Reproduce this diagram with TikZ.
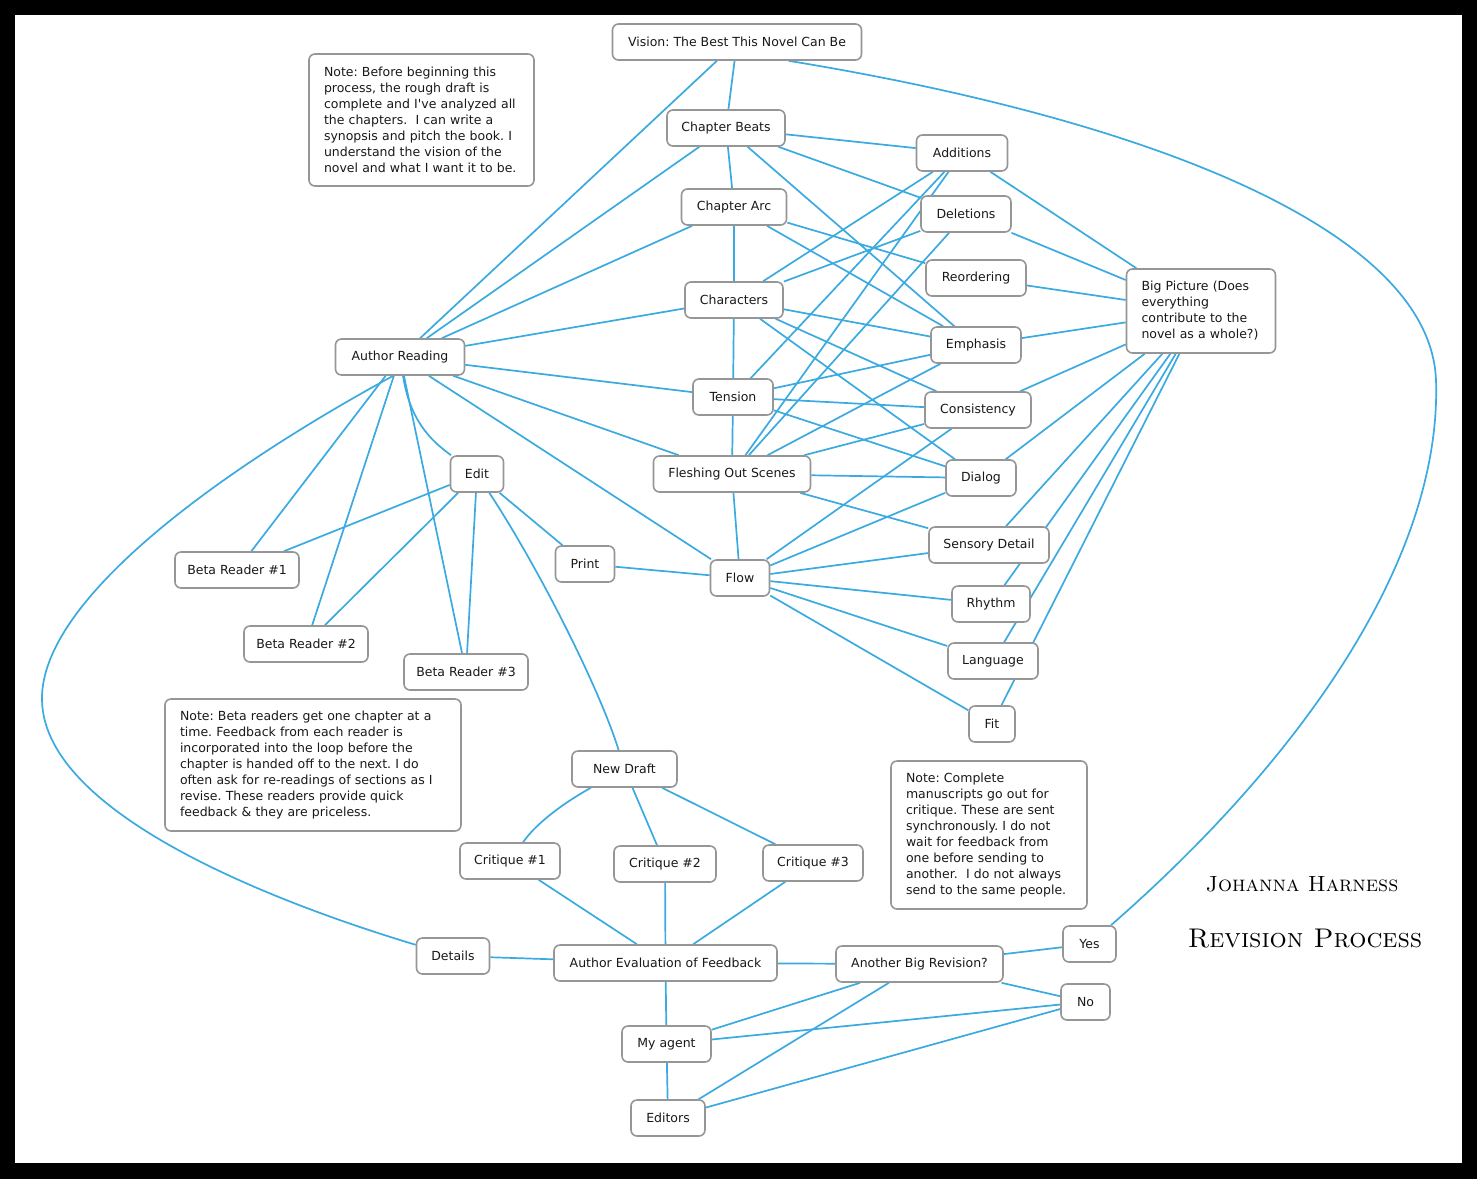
\documentclass[tikz,border=0pt]{standalone}
\usepackage{fontspec}
\newfontfamily\lbl{DejaVu Sans}
\usetikzlibrary{backgrounds}
\definecolor{edgec}{RGB}{58,170,225}
\definecolor{bord}{RGB}{150,150,150}
\frenchspacing
\begin{document}
\begin{tikzpicture}[x=1pt,y=-1pt,
  box/.style={draw=bord, line width=1.6pt, rounded corners=6pt, fill=white,
    minimum height=36pt, inner sep=0pt, text=black!90,
    font=\lbl\fontsize{12.5}{16}\selectfont},
  notebox/.style={box, align=left},
  link/.style={draw=edgec, line width=1.7pt}]

% nodes
\node[box, minimum width=249pt] (vis) at (737,42) {Vision: The Best This Novel Can Be};
\node[notebox, minimum width=225pt, minimum height=132pt, text width=195pt] (n1) at (421.5,120)
  {Note: Before beginning this\\process, the rough draft is\\complete and I've analyzed all\\the chapters.\ \ I can write a\\synopsis and pitch the book. I\\understand the vision of the\\novel and what I want it to be.};
\node[box, minimum width=118pt] (cb) at (726,128) {Chapter Beats};
\node[box, minimum width=91pt] (add) at (962,153) {Additions};
\node[box, minimum width=105pt] (ca) at (734,207) {Chapter Arc};
\node[box, minimum width=90pt] (del) at (966,214) {Deletions};
\node[box, minimum width=100pt] (reo) at (976,278) {Reordering};
\node[notebox, minimum width=149pt, minimum height=84pt, text width=119pt] (bp) at (1201,311)
  {Big Picture (Does\\everything\\contribute to the\\novel as a whole?)};
\node[box, minimum width=98pt] (chr) at (734,300) {Characters};
\node[box, minimum width=90pt] (emp) at (976,345) {Emphasis};
\node[box, minimum width=129pt] (ar) at (400,357) {Author Reading};
\node[box, minimum width=80pt] (ten) at (733,397) {Tension};
\node[box, minimum width=106pt] (con) at (978,410) {Consistency};
\node[box, minimum width=53pt] (edit) at (477,474) {Edit};
\node[box, minimum width=157pt] (fos) at (732,474) {Fleshing Out Scenes};
\node[box, minimum width=70pt] (dia) at (981,478) {Dialog};
\node[box, minimum width=120pt] (sen) at (989,545) {Sensory Detail};
\node[box, minimum width=124pt] (b1) at (237,570) {Beta Reader \#1};
\node[box, minimum width=59pt] (pr) at (585,564) {Print};
\node[box, minimum width=59pt] (flow) at (740,578) {Flow};
\node[box, minimum width=78pt] (rhy) at (991,604) {Rhythm};
\node[box, minimum width=124pt] (b2) at (306,644) {Beta Reader \#2};
\node[box, minimum width=90pt] (lan) at (993,661) {Language};
\node[box, minimum width=124pt] (b3) at (466,672) {Beta Reader \#3};
\node[box, minimum width=46pt] (fit) at (992,724) {Fit};
\node[notebox, minimum width=296pt, minimum height=132pt, text width=266pt] (n2) at (313,765)
  {Note: Beta readers get one chapter at a\\time. Feedback from each reader is\\incorporated into the loop before the\\chapter is handed off to the next. I do\\often ask for re-readings of sections as I\\revise. These readers provide quick\\feedback \& they are priceless.};
\node[box, minimum width=105pt] (nd) at (624.5,769) {New Draft};
\node[notebox, minimum width=196pt, minimum height=148pt, text width=166pt] (n3) at (989,835)
  {Note: Complete\\manuscripts go out for\\critique. These are sent\\synchronously. I do not\\wait for feedback from\\one before sending to\\another.\ \ I do not always\\send to the same people.};
\node[box, minimum width=100pt] (c1) at (510,861) {Critique \#1};
\node[box, minimum width=102pt] (c2) at (665,864) {Critique \#2};
\node[box, minimum width=100pt] (c3) at (813,863) {Critique \#3};
\node[box, minimum width=73pt] (det) at (453,956) {Details};
\node[box, minimum width=223pt] (aef) at (665.5,963) {Author Evaluation of Feedback};
\node[box, minimum width=167pt] (abr) at (919.5,964) {Another Big Revision?};
\node[box, minimum width=53pt] (yes) at (1089.5,944) {Yes};
\node[box, minimum width=49pt] (no) at (1085.5,1002) {No};
\node[box, minimum width=89pt] (ag) at (666.5,1044) {My agent};
\node[box, minimum width=74pt] (ed) at (668,1118) {Editors};
\node[font=\fontsize{22}{26}\selectfont\scshape] (t1) at (1302,884) {Johanna Harness};
\node[font=\fontsize{27}{30}\selectfont\scshape] (t2) at (1305,939) {Revision Process};

\begin{pgfonlayer}{background}
\fill[black] (0,0) rectangle (1477,1179);
\fill[white] (15,15) rectangle (1462,1163);
% top
\draw[link] (vis) -- (ar);
\draw[link] (vis) -- (cb);
\draw[link] (vis.-20) .. controls (1150,120) and (1430,230) .. (1436,380)
   .. controls (1442,560) and (1300,760) .. (yes);
\foreach \t in {ar,ca,add,del,emp} \draw[link] (cb) -- (\t);
\foreach \t in {ar,chr,reo,emp} \draw[link] (ca) -- (\t);
\foreach \t in {ar,ten,add,del,emp,con,dia} \draw[link] (chr) -- (\t);
\foreach \t in {ar,fos,add,emp,con,dia} \draw[link] (ten) -- (\t);
\foreach \t in {ar,add,del,emp,con,dia,sen,flow} \draw[link] (fos) -- (\t);
\foreach \t in {ar,pr,con,dia,sen,rhy,lan,fit} \draw[link] (flow) -- (\t);
\foreach \t in {add,del,reo,emp,con,dia,sen,rhy,lan,fit} \draw[link] (bp) -- (\t);
% author reading
\draw[link] (ar) .. controls (410,420) and (430,440) .. (edit);
\foreach \t in {b1,b2,b3} \draw[link] (ar) -- (\t);
\draw[link] (ar.250) .. controls (220,470) and (40,600) .. (42,700)
   .. controls (44,820) and (300,910) .. (det);
% edit
\foreach \t in {b1,b2,b3,pr} \draw[link] (edit) -- (\t);
\draw[link] (edit) .. controls (540,570) and (600,690) .. (nd);
% lower
\draw[link] (nd) .. controls (560,805) and (535,825) .. (c1);
\draw[link] (nd) -- (c2);
\draw[link] (nd) -- (c3);
\foreach \t in {c1,c2,c3,det,abr,ag} \draw[link] (aef) -- (\t);
\draw[link] (ag) -- (ed);
\foreach \t in {yes,no,ag,ed} \draw[link] (abr) -- (\t);
\draw[link] (no) -- (ag);
\draw[link] (no) -- (ed);
\end{pgfonlayer}
\end{tikzpicture}
\end{document}
